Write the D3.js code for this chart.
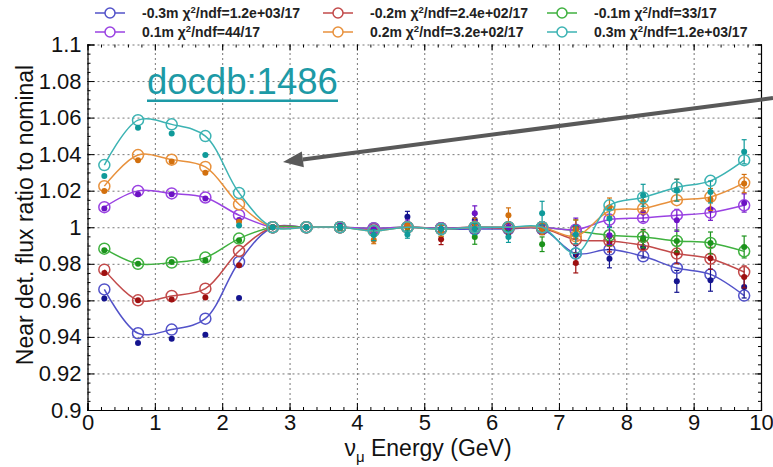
<!DOCTYPE html>
<html>
<head>
<meta charset="utf-8">
<script src="https://cdn.jsdelivr.net/npm/d3@7"></script>
<style>
  body { margin: 0; background: #fff; }
  text { font-family: "Liberation Sans", Arial, sans-serif; }
</style>
</head>
<body>
<div id="chart"></div>
<script>
// bin centres (GeV)
const energy = [0.25, 0.75, 1.25, 1.75, 2.25, 2.75, 3.25, 3.75, 4.25, 4.75,
                5.25, 5.75, 6.25, 6.75, 7.25, 7.75, 8.25, 8.75, 9.25, 9.75];

const labels = ["-0.3m", "-0.2m", "-0.1m", "0.1m", "0.2m", "0.3m"];
const chi2 = ["1.2e+03/17", "2.4e+02/17", "33/17", "44/17", "3.2e+02/17", "1.2e+03/17"];

// open circles (fit)
const fitM03 = [0.966, 0.942, 0.944, 0.950, 0.981, 1.000, 1.000, 1.000, 0.999, 1.000, 0.999, 0.999, 0.999, 0.999, 0.9856, 0.9878, 0.9841, 0.9777, 0.9742, 0.9626];
const fitM02 = [0.9768, 0.960, 0.9624, 0.9664, 0.987, 1.000, 1.000, 1.000, 0.999, 1.000, 0.9995, 1.000, 0.9995, 0.9995, 0.9932, 0.9925, 0.9901, 0.9856, 0.9828, 0.9755];
const fitM01 = [0.9883, 0.980, 0.9807, 0.9834, 0.9938, 1.000, 1.000, 1.000, 0.9995, 1.000, 0.9995, 1.000, 1.000, 1.000, 0.998, 0.9956, 0.9947, 0.9925, 0.9914, 0.9868];
const fitP01 = [1.011, 1.0199, 1.0185, 1.0163, 1.0066, 1.000, 1.000, 1.000, 0.9995, 1.000, 0.9995, 1.000, 1.000, 1.000, 0.9987, 1.0042, 1.0051, 1.0066, 1.008, 1.012];
const fitP02 = [1.0225, 1.0395, 1.037, 1.033, 1.0126, 1.000, 1.000, 1.000, 0.998, 1.000, 0.999, 1.000, 1.000, 1.000, 0.995, 1.0089, 1.0102, 1.0148, 1.0166, 1.0243];
const fitP03 = [1.034, 1.0586, 1.0563, 1.0499, 1.0188, 1.000, 1.000, 1.000, 0.998, 1.000, 0.999, 1.000, 1.000, 1.000, 0.9857, 1.012, 1.0163, 1.0218, 1.0254, 1.0367];

// filled dots (shifted samples) and their errors
const datM03 = [0.961, 0.9366, 0.939, 0.9412, 0.9613, 1.000, 1.000, 1.001, 0.998, 1.0057, 0.999, 1.004, 0.998, 1.000, 0.985, 0.9828, 0.9892, 0.9704, 0.971, 0.9673];
const datM02 = [0.975, 0.960, 0.9604, 0.9615, 0.9792, 1.000, 1.000, 1.000, 0.997, 1.001, 0.9935, 1.000, 0.999, 0.999, 0.9805, 0.9915, 0.9929, 0.986, 0.983, 0.9728];
const datM01 = [0.9874, 0.980, 0.981, 0.982, 0.9929, 1.000, 1.000, 1.000, 0.998, 1.000, 0.998, 0.9947, 0.998, 0.9907, 0.999, 0.995, 0.9938, 0.9925, 0.9914, 0.9892];
const datP01 = [1.0102, 1.018, 1.018, 1.0157, 1.004, 1.000, 1.000, 1.001, 0.999, 1.002, 0.999, 1.0077, 1.000, 1.000, 1.000, 0.9956, 1.008, 1.0038, 1.0098, 1.0133];
const datP02 = [1.0199, 1.0367, 1.036, 1.0298, 1.003, 1.000, 1.000, 1.000, 0.993, 1.001, 0.998, 1.002, 1.0066, 0.999, 0.999, 1.011, 1.0139, 1.0203, 1.0152, 1.0239];
const datP03 = [1.028, 1.0544, 1.0513, 1.0395, 1.001, 1.000, 1.000, 1.000, 0.9957, 0.996, 0.999, 0.999, 0.9947, 1.0077, 0.996, 1.0048, 1.0175, 1.0203, 1.0193, 1.0413];

const errM03 = [0.0005, 0.0005, 0.0005, 0.0005, 0.0008, 0.0003, 0.001, 0.0015, 0.002, 0.003, 0.002, 0.003, 0.003, 0.003, 0.005, 0.005, 0.006, 0.006, 0.006, 0.006];
const errM02 = [0.0005, 0.0005, 0.0005, 0.0005, 0.0008, 0.0003, 0.001, 0.0015, 0.002, 0.002, 0.003, 0.003, 0.003, 0.003, 0.0055, 0.005, 0.005, 0.006, 0.006, 0.006];
const errM01 = [0.0005, 0.0005, 0.0005, 0.0005, 0.0008, 0.0003, 0.001, 0.0015, 0.002, 0.002, 0.003, 0.004, 0.003, 0.004, 0.005, 0.005, 0.005, 0.006, 0.006, 0.006];
const errP01 = [0.0005, 0.0005, 0.0005, 0.0005, 0.0008, 0.0003, 0.001, 0.0015, 0.002, 0.002, 0.003, 0.004, 0.003, 0.003, 0.005, 0.005, 0.005, 0.006, 0.006, 0.005];
const errP02 = [0.0005, 0.0005, 0.0005, 0.0005, 0.0008, 0.0003, 0.001, 0.0015, 0.002, 0.002, 0.003, 0.003, 0.004, 0.003, 0.005, 0.005, 0.005, 0.006, 0.006, 0.005];
const errP03 = [0.0005, 0.0005, 0.0005, 0.0005, 0.0008, 0.0003, 0.001, 0.0015, 0.003, 0.002, 0.003, 0.003, 0.003, 0.0065, 0.005, 0.005, 0.006, 0.006, 0.006, 0.0066];

const lineColors = ["#5252c9", "#c24a4a", "#3fb13f", "#9a42e2", "#e8913c", "#3cb3b3"];
const dotColors  = ["#14148f", "#9e1010", "#1c931c", "#6c12c4", "#d2700e", "#0f9a9a"];

const fits = [fitM03, fitM02, fitM01, fitP01, fitP02, fitP03];
const dats = [datM03, datM02, datM01, datP01, datP02, datP03];
const errs = [errM03, errM02, errM01, errP01, errP02, errP03];

const series = labels.map((l, i) => ({
  label: l, chi: chi2[i], line: lineColors[i], dot: dotColors[i],
  pts: energy.map((e, j) => ({e: e, fit: fits[i][j], dat: dats[i][j], err: errs[i][j]}))
}));

const W = 773, H = 467;
const svg = d3.select("#chart").append("svg")
  .attr("width", W).attr("height", H);

const x = d3.scaleLinear().domain([0, 10]).range([87.5, 761]);
const y = d3.scaleLinear().domain([0.9, 1.1]).range([410, 44.5]);
const x0 = x.range()[0], x1 = x.range()[1], yb = y.range()[0], yt = y.range()[1];

// grid
const gridStyle = g => g.selectAll("line").attr("stroke", "#777").attr("stroke-dasharray", "2,3").attr("stroke-width", 1);
svg.append("g").attr("transform", `translate(0,${yb})`)
  .call(d3.axisBottom(x).ticks(10).tickSize(-(yb - yt)).tickFormat(""))
  .call(g => g.select(".domain").remove())
  .call(gridStyle);
svg.append("g").attr("transform", `translate(${x0},0)`)
  .call(d3.axisLeft(y).ticks(10).tickSize(-(x1 - x0)).tickFormat(""))
  .call(g => g.select(".domain").remove())
  .call(gridStyle);

// frame axes (ticks inside)
const axFont = g => g.selectAll("text").attr("font-size", 22).attr("fill", "#111")
  .attr("font-family", "Liberation Sans, Arial, sans-serif");

svg.append("g").attr("transform", `translate(0,${yb})`)
  .call(d3.axisBottom(x).ticks(50).tickSize(-3).tickFormat(""))
  .call(g => g.select(".domain").remove());
svg.append("g").attr("transform", `translate(0,${yb})`)
  .call(d3.axisBottom(x).ticks(10).tickSize(-7).tickPadding(4).tickFormat(d3.format("d")))
  .call(g => g.select(".domain").attr("stroke-width", 1.2))
  .call(axFont);
svg.append("g").attr("transform", `translate(0,${yt})`)
  .call(d3.axisTop(x).ticks(50).tickSize(-3).tickFormat(""))
  .call(g => g.select(".domain").remove());
svg.append("g").attr("transform", `translate(0,${yt})`)
  .call(d3.axisTop(x).ticks(10).tickSize(-6).tickFormat(""))
  .call(g => g.select(".domain").remove());

svg.append("g").attr("transform", `translate(${x0},0)`)
  .call(d3.axisLeft(y).ticks(40).tickSize(-3).tickFormat(""))
  .call(g => g.select(".domain").remove());
svg.append("g").attr("transform", `translate(${x0},0)`)
  .call(d3.axisLeft(y).ticks(10).tickSize(-7).tickPadding(6)
    .tickFormat(d => d === 1 ? "1" : (Math.abs(d - 1.1) < 1e-9 ? "1.1" : (Math.abs(d - 0.9) < 1e-9 ? "0.9" : d3.format(".2f")(d)))))
  .call(g => g.select(".domain").attr("stroke-width", 1.2))
  .call(axFont);
svg.append("g").attr("transform", `translate(${x1},0)`)
  .call(d3.axisRight(y).ticks(40).tickSize(-3).tickFormat(""))
  .call(g => g.select(".domain").remove());
svg.append("g").attr("transform", `translate(${x1},0)`)
  .call(d3.axisRight(y).ticks(10).tickSize(-6).tickFormat(""))
  .call(g => g.select(".domain").attr("stroke-width", 1.2));

// axis titles
svg.append("text")
  .attr("transform", `translate(33,215) rotate(-90)`)
  .attr("text-anchor", "middle").attr("font-size", 23).attr("fill", "#111")
  .text("Near det. flux ratio to nominal");
const xt = svg.append("text").attr("x", 428).attr("y", 456)
  .attr("text-anchor", "middle").attr("font-size", 23).attr("fill", "#111");
xt.append("tspan").text("ν");
xt.append("tspan").attr("font-size", 15).attr("dy", 6).text("μ");
xt.append("tspan").attr("dy", -6).text(" Energy (GeV)");

// series
const line = d3.line().x(d => x(d.e)).y(d => y(d.fit)).curve(d3.curveCatmullRom.alpha(0.5));
const sg = svg.selectAll(".series").data(series).join("g").attr("class", "series");

sg.append("path")
  .attr("d", d => line(d.pts))
  .attr("fill", "none").attr("stroke", d => d.line).attr("stroke-width", 1.5);

sg.each(function (s) {
  const g = d3.select(this);
  g.selectAll(".eb").data(s.pts.filter(p => y(p.dat - p.err) - y(p.dat + p.err) > 4)).join("g")
    .attr("class", "eb")
    .call(e => e.append("line")
      .attr("x1", p => x(p.e)).attr("x2", p => x(p.e))
      .attr("y1", p => y(p.dat - p.err)).attr("y2", p => y(p.dat + p.err)))
    .call(e => e.append("line")
      .attr("x1", p => x(p.e) - 2.5).attr("x2", p => x(p.e) + 2.5)
      .attr("y1", p => y(p.dat - p.err)).attr("y2", p => y(p.dat - p.err)))
    .call(e => e.append("line")
      .attr("x1", p => x(p.e) - 2.5).attr("x2", p => x(p.e) + 2.5)
      .attr("y1", p => y(p.dat + p.err)).attr("y2", p => y(p.dat + p.err)))
    .selectAll("line").attr("stroke", s.dot).attr("stroke-width", 1.2);
  g.selectAll(".open").data(s.pts).join("circle")
    .attr("class", "open")
    .attr("cx", p => x(p.e)).attr("cy", p => y(p.fit)).attr("r", 5.5)
    .attr("fill", "none").attr("stroke", s.line).attr("stroke-width", 1.5);
  g.selectAll(".dot").data(s.pts).join("circle")
    .attr("class", "dot")
    .attr("cx", p => x(p.e)).attr("cy", p => y(p.dat)).attr("r", 3)
    .attr("fill", s.dot);
});

// legend
const legCols = [95, 323, 547];
const legRows = [13, 32];
const lg = svg.selectAll(".leg").data(series).join("g").attr("class", "leg")
  .attr("transform", (d, i) => `translate(${legCols[i % 3]},${legRows[Math.floor(i / 3)]})`);
lg.append("line").attr("x1", 0).attr("x2", 30).attr("stroke", d => d.line).attr("stroke-width", 1.5);
lg.append("circle").attr("cx", 15).attr("r", 5).attr("fill", "#fff").attr("stroke", d => d.line).attr("stroke-width", 1.5);
const lt = lg.append("text").attr("x", 47).attr("y", 5)
  .attr("font-size", 14).attr("font-weight", "bold").attr("fill", "#222");
lt.append("tspan").text(d => d.label + " χ");
lt.append("tspan").attr("font-size", 9.5).attr("dy", -5).text("2");
lt.append("tspan").attr("dy", 5).text(d => "/ndf=" + d.chi);

// annotation
svg.append("text").attr("x", 147).attr("y", 94)
  .attr("font-size", 36.5).attr("fill", "#1d9aa6").text("docdb:1486");
svg.append("rect").attr("x", 147).attr("y", 99.5).attr("width", 191).attr("height", 2.5).attr("fill", "#1d9aa6");

const ax0 = 773, ay0 = 98, ax1 = 283, ay1 = 162;
const ang = Math.atan2(ay1 - ay0, ax1 - ax0);
const hl = 20, hw = 8;
const bx = ax1 - hl * Math.cos(ang), by = ay1 - hl * Math.sin(ang);
svg.append("line").attr("x1", ax0).attr("y1", ay0).attr("x2", bx).attr("y2", by)
  .attr("stroke", "#595959").attr("stroke-width", 4);
svg.append("polygon")
  .attr("points", [[ax1, ay1],
    [bx + hw * Math.sin(ang), by - hw * Math.cos(ang)],
    [bx - hw * Math.sin(ang), by + hw * Math.cos(ang)]].map(p => p.join(",")).join(" "))
  .attr("fill", "#595959");
</script>
</body>
</html>
